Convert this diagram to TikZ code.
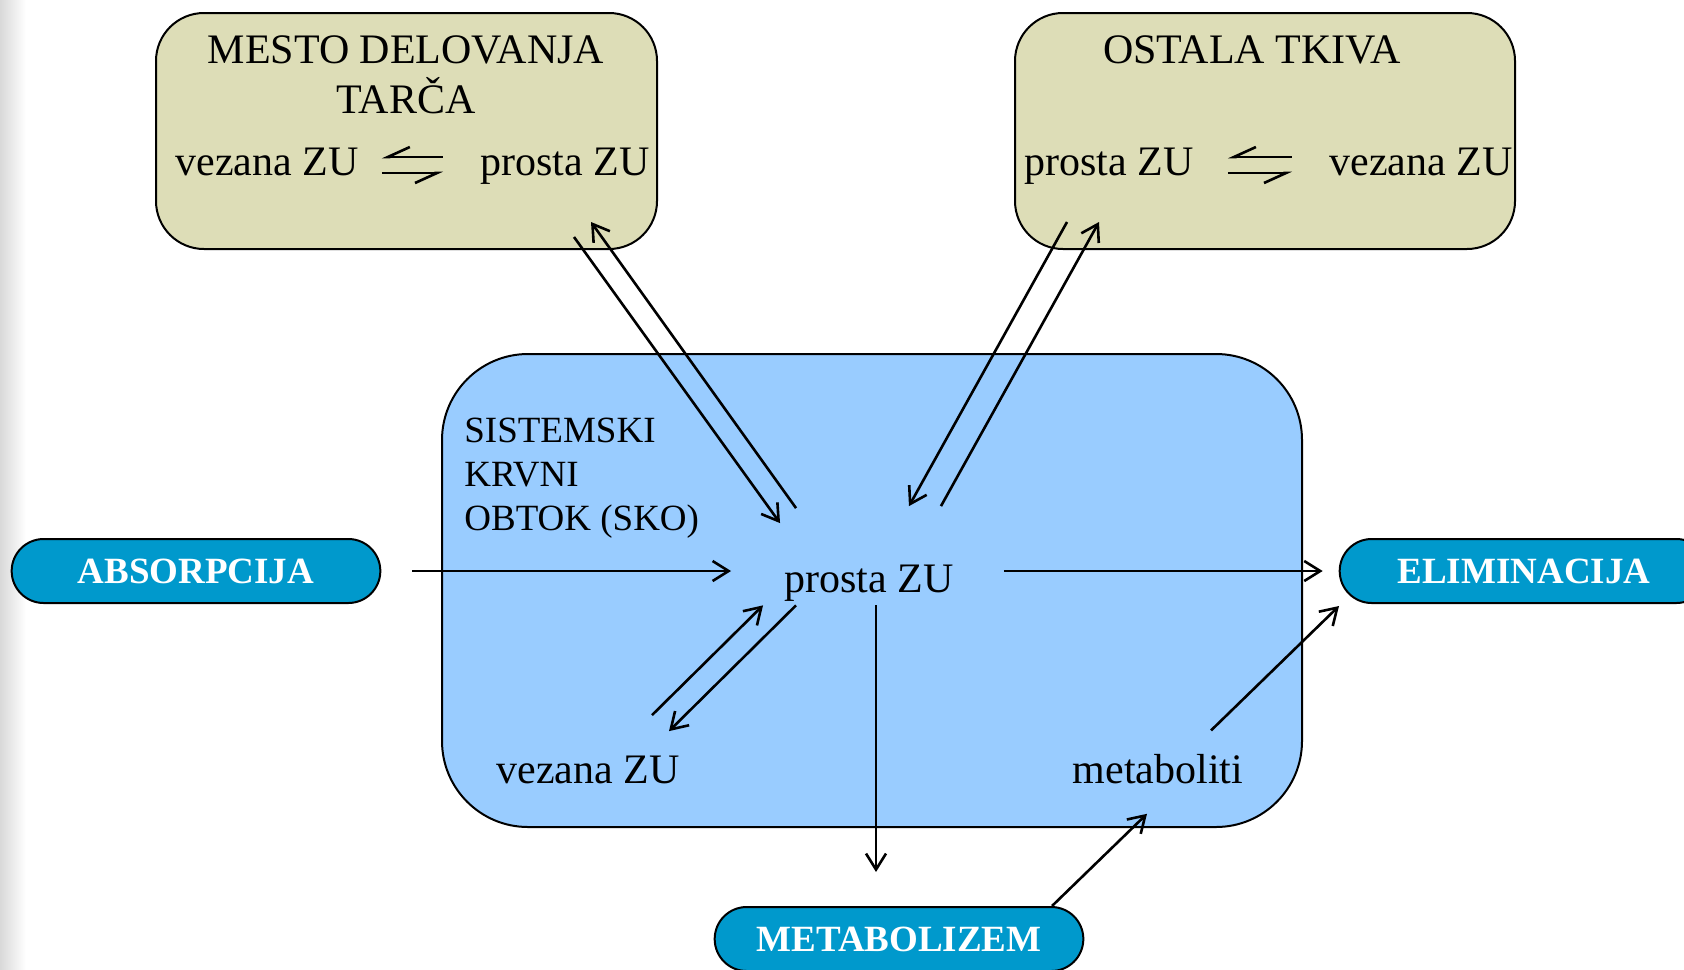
\documentclass[tikz,border=0pt]{standalone}
\usepackage{fontspec}
\setmainfont{Liberation Serif}
\usetikzlibrary{arrows.meta, shapes.misc}

\definecolor{tarcabarva}{RGB}{221,221,183}
\definecolor{skobarva}{RGB}{153,204,255}
\definecolor{procesbarva}{RGB}{0,153,204}

\tikzstyle{blok} = [rectangle, draw, line width=1pt, fill=tarcabarva, rounded corners=24pt, minimum width=250.5pt, minimum height=118pt]
\tikzstyle{proces} = [rounded rectangle, draw, line width=1pt, fill=procesbarva, minimum width=191pt, minimum height=32pt, text=white, font=\fontsize{18.5}{22}\selectfont\bfseries]
\tikzstyle{besedilo} = [inner sep=0pt, font=\fontsize{21}{25}\selectfont]
\tikzstyle{puscica} = [->, line width=1.3pt]
\tikzstyle{harpuna} = [line width=1.3pt]

\begin{document}
\begin{tikzpicture}[x=0.5pt, y=-0.5pt, >={Straight Barb[length=8pt, width=10pt]}]
		\useasboundingbox (0,0) rectangle (1684,969);
		\shade[left color=black!15, right color=white] (0,0) rectangle (26,969);
		
		% Mesto delovanja
		\node[blok] (tarca) at (406.5,131) {};
		\node[besedilo, align=center, anchor=base] (tarcanaslov) at (406,113) {MESTO DELOVANJA\\TARČA};
		\node[besedilo, anchor=base west] (tarcavez) at (175,175) {vezana ZU};
		\node[besedilo, anchor=base west] (tarcapro) at (480,175) {prosta ZU};
		\draw[harpuna, {Straight Barb[harpoon, swap, length=11pt, width=10pt]}-] ([shift={(23,-18)}]tarcavez.base east) -- ([shift={(-37,-18)}]tarcapro.base west);
		\draw[harpuna, -{Straight Barb[harpoon, swap, length=11pt, width=10pt]}] ([shift={(23,-2)}]tarcavez.base east) -- ([shift={(-37,-2)}]tarcapro.base west);
		
		% Ostala tkiva
		\node[blok, minimum width=250pt] (tkiva) at (1265,131) {};
		\node[besedilo, anchor=base] (tkivanaslov) at (1252,63) {OSTALA TKIVA};
		\node[besedilo, anchor=base west] (tkivapro) at (1024,175) {prosta ZU};
		\node[besedilo, anchor=base west] (tkivavez) at (1329,175) {vezana ZU};
		\draw[harpuna, {Straight Barb[harpoon, swap, length=11pt, width=10pt]}-] ([shift={(34,-18)}]tkivapro.base east) -- ([shift={(-37,-18)}]tkivavez.base west);
		\draw[harpuna, -{Straight Barb[harpoon, swap, length=11pt, width=10pt]}] ([shift={(34,-2)}]tkivapro.base east) -- ([shift={(-37,-2)}]tkivavez.base west);
		
		% Sistemski krvni obtok
		\node[rectangle, draw, line width=1pt, fill=skobarva, rounded corners=43pt, minimum width=430pt, minimum height=236.5pt] (sko) at (872,590.5) {};
		\node[besedilo, font=\fontsize{18.5}{22}\selectfont, align=left, anchor=base west] (skonaslov) at (464,530) {SISTEMSKI\\KRVNI\\OBTOK (SKO)};
		\node[besedilo, anchor=base] (prosta) at (869,592) {prosta ZU};
		\node[besedilo, anchor=base] (skovez) at (588,783) {vezana ZU};
		\node[besedilo, anchor=base] (metab) at (1158,783) {metaboliti};
		
		% Procesi
		\node[proces] (absorp) at (196,571) {ABSORPCIJA};
		\node[proces] (elim) at (1524,571) {ELIMINACIJA};
		\node[proces] (metabol) at (899,939) {METABOLIZEM};
		
		\draw[puscica] ([xshift=15.5pt]absorp.east) -- ([shift={(-53,0)}]prosta.west |- absorp.east);
		\draw[puscica] ([shift={(50,0)}]prosta.east |- elim.west) -- ([xshift=-8pt]elim.west);
		\draw[puscica] ([shift={(7,4)}]prosta.south) -- ([shift={(7,-34)}]prosta.south |- metabol.north);
		\draw[puscica] ([xshift=76.5pt]metabol.north) -- ([shift={(-11,30)}]metab.south);
		\draw[puscica] ([shift={(53,-23)}]metab.north) -- ([shift={(-185,2)}]elim.south);
		\draw[puscica] ([shift={(64,-40)}]skovez.north) -- ([shift={(-21,4)}]prosta.south west);
		\draw[puscica] ([shift={(12,4)}]prosta.south west) -- ([shift={(81,-24)}]skovez.north);
		\draw[puscica] ([shift={(-84,-13)}]tarca.south east) -- ([shift={(-4,-41)}]prosta.north west);
		\draw[puscica] ([shift={(12,-56)}]prosta.north west) -- ([shift={(-67,-28)}]tarca.south east);
		\draw[puscica] ([shift={(53,-28)}]tkiva.south west) -- ([shift={(-45,-58)}]prosta.north east);
		\draw[puscica] ([shift={(-13,-58)}]prosta.north east) -- ([shift={(85,-28)}]tkiva.south west);
	\end{tikzpicture}
\end{document}
